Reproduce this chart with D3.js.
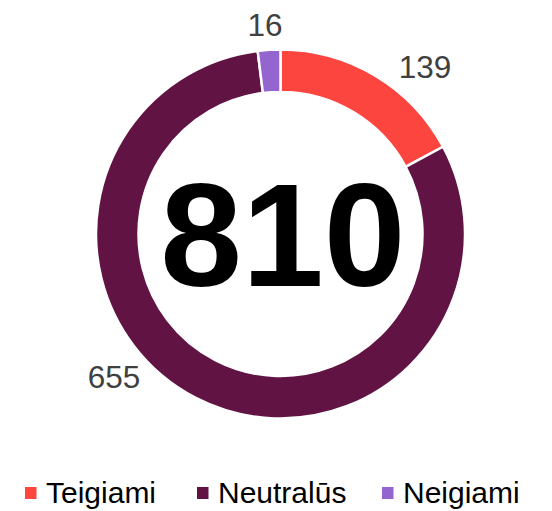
<!DOCTYPE html>
<html>
<head>
<meta charset="utf-8">
<script src="https://cdn.jsdelivr.net/npm/d3@7"></script>
<style>
  html, body { margin: 0; padding: 0; background: #fff; }
  svg { display: block; font-family: "Liberation Sans", Arial, sans-serif; }
</style>
</head>
<body>
<svg id="chart" width="552" height="511"></svg>
<script>
const categories = ["Teigiami", "Neutralūs", "Neigiami"];
const values = [139, 655, 16];
const colors = ["#fd4540", "#611344", "#9565cf"];
const totalLabel = "810";

const svg = d3.select("#chart");
const cx = 280.5, cy = 234, rOuter = 184.5, rInner = 142;

const pie = d3.pie().sort(null).value(d => d.value);
const data = pie(categories.map((c, i) => ({ name: c, value: values[i], color: colors[i] })));
const arc = d3.arc().innerRadius(rInner).outerRadius(rOuter);

const g = svg.append("g").attr("transform", `translate(${cx},${cy})`);
g.selectAll("path").data(data).join("path")
  .attr("d", arc)
  .attr("fill", d => d.data.color)
  .attr("stroke", "#fff")
  .attr("stroke-width", 2.5);

const labelOffsets = { "Teigiami": [425, 78], "Neutralūs": [114, 388], "Neigiami": [265, 36] };
g.selectAll("text.val").data(data).join("text")
  .attr("class", "val")
  .attr("x", d => labelOffsets[d.data.name][0] - cx)
  .attr("y", d => labelOffsets[d.data.name][1] - cy)
  .attr("text-anchor", "middle")
  .attr("font-size", 31.5)
  .attr("fill", "#404040")
  .text(d => d.data.value);

svg.append("text")
  .attr("x", 283)
  .attr("y", 286)
  .attr("text-anchor", "middle")
  .attr("font-size", 147)
  .attr("font-weight", "bold")
  .attr("fill", "#000")
  .text(totalLabel);

const legendX = [25, 197, 382];
const legend = svg.append("g");
categories.forEach((c, i) => {
  const x = legendX[i];
  legend.append("rect")
    .attr("x", x).attr("y", 487)
    .attr("width", 11.5).attr("height", 12)
    .attr("fill", colors[i]);
  legend.append("text")
    .attr("x", x + 21)
    .attr("y", 503)
    .attr("font-size", 30)
    .attr("fill", "#000")
    .text(c);
});
</script>
</body>
</html>
